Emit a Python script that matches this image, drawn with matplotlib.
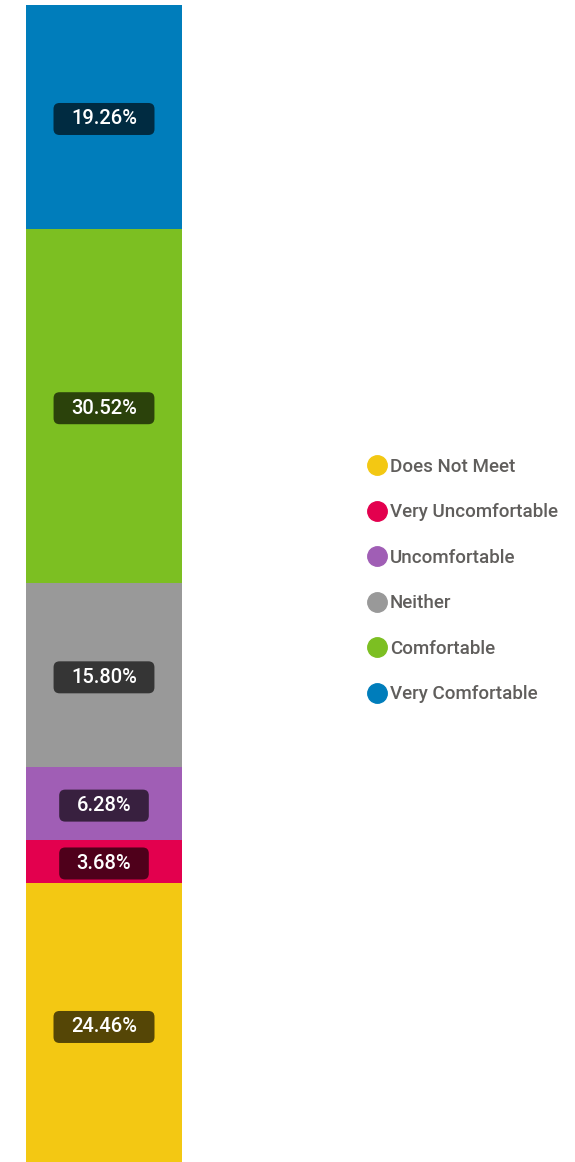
import matplotlib.pyplot as plt
from matplotlib.lines import Line2D
from matplotlib.patches import FancyBboxPatch
from matplotlib.transforms import IdentityTransform, offset_copy

# bottom to top
categories = ["Does Not Meet", "Very Uncomfortable", "Uncomfortable",
              "Neither", "Comfortable", "Very Comfortable"]
values = [24.46, 3.68, 6.28, 15.80, 30.52, 19.26]
colors = ["#F3C813", "#E3004E", "#A05EB5", "#999999", "#7CBF22", "#007DBB"]

plt.rcParams['font.family'] = ['Roboto', 'DejaVu Sans']

W, H = 575, 1162
fig = plt.figure(figsize=(W / 100, H / 100), dpi=100)
# bar runs a few pixels past the bottom edge, like the original
ax = fig.add_axes([26 / W, -5 / H, 156 / W, 1162 / H])

# nudge labels down a couple of pixels
lab_tr = offset_copy(ax.transData, fig=fig, x=0, y=-1.5, units="points")

bottom = 0
labels = []
for cat, v, c in zip(categories, values, colors):
    ax.bar(0, v, bottom=bottom, width=1, color=c, linewidth=0)
    t = ax.text(0, bottom + v / 2, f"{v:.2f}%", ha="center", va="center",
                color="white", fontsize=14.5, fontweight="medium", zorder=6,
                transform=lab_tr)
    labels.append(t)
    bottom += v

ax.set_xlim(-0.5, 0.5)
ax.set_ylim(0, 100)
ax.axis("off")

# dark rounded boxes behind the labels
fig.canvas.draw()
r = fig.canvas.get_renderer()
for t in labels:
    bb = t.get_window_extent(r)
    cx, cy = (bb.x0 + bb.x1) / 2, (bb.y0 + bb.y1) / 2
    bw, bh = bb.width + 35, 32
    patch = FancyBboxPatch((cx - bw / 2 + 6, cy - bh / 2 + 6), bw - 12, bh - 12,
                           boxstyle="round,pad=6", transform=IdentityTransform(),
                           facecolor="black", alpha=0.65, linewidth=0, zorder=5)
    ax.add_patch(patch)

handles = [Line2D([], [], marker="o", linestyle="none", markersize=14,
                  markerfacecolor=c, markeredgecolor=c) for c in colors]
leg = fig.legend(handles, categories, loc="center left",
                 bbox_to_anchor=(358 / W, 1 - 580.5 / H), frameon=False,
                 prop={"size": 13.5, "weight": "medium"},
                 labelspacing=1.47, handletextpad=0.2,
                 handlelength=1.0, borderpad=0)
for txt in leg.get_texts():
    txt.set_color("#605E5C")

fig.savefig("out.png", dpi=100)
